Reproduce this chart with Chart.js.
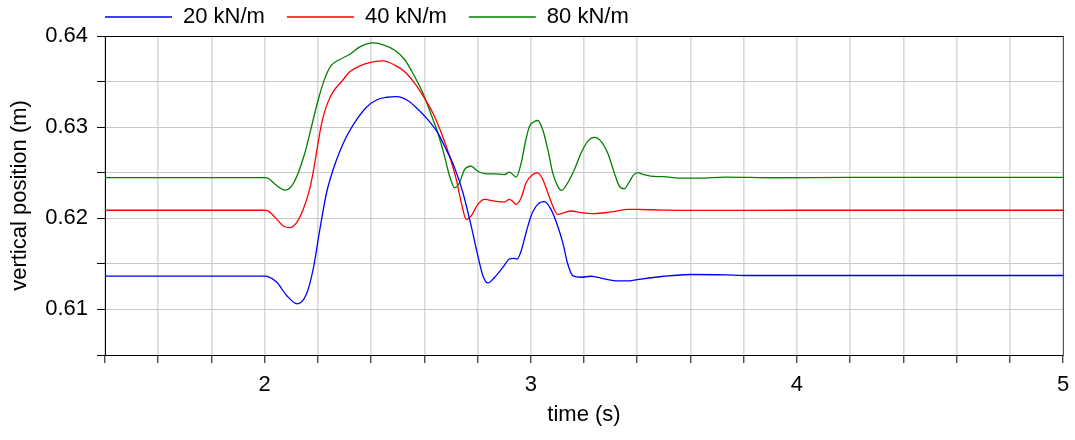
<!DOCTYPE html>
<html>
<head>
<meta charset="utf-8">
<script src="https://cdn.jsdelivr.net/npm/chart.js@4/dist/chart.umd.min.js"></script>
<style>
  body { margin: 0; background: #fff; }
  #wrap { width: 1075px; height: 440px; }
</style>
</head>
<body>
<div id="wrap"><canvas id="plot"></canvas></div>
<script>
// series labels
const seriesNames = ["20 kN/m", "40 kN/m", "80 kN/m"];
const seriesColors = ["#0000ff", "#ff0000", "#008000"];

// 20 kN/m
const blueTime = [1.4, 2.0, 2.01, 2.045, 2.0825, 2.1225, 2.1575, 2.1825, 2.2075, 2.2325, 2.2575, 2.2825, 2.3075, 2.345, 2.3825, 2.42, 2.46, 2.495, 2.539, 2.576, 2.614, 2.651, 2.6825, 2.714, 2.745, 2.776, 2.801, 2.82, 2.839, 2.864, 2.895, 2.92, 2.935, 2.949, 2.964, 2.9825, 3.001, 3.026, 3.051, 3.076, 3.101, 3.12, 3.139, 3.1575, 3.189, 3.226, 3.276, 3.326, 3.37, 3.4, 3.5, 3.6, 3.73, 3.8, 4.0, 5.0];
const blueVal = [0.61365, 0.61365, 0.61362, 0.6130, 0.61153, 0.61062, 0.61171, 0.61444, 0.6188, 0.6228, 0.62535, 0.62735, 0.62898, 0.6308, 0.63218, 0.63298, 0.63328, 0.63335, 0.6329, 0.63196, 0.6308, 0.62935, 0.62753, 0.62553, 0.6228, 0.61916, 0.6159, 0.6137, 0.61291, 0.61353, 0.61462, 0.61553, 0.6156, 0.61553, 0.61644, 0.61844, 0.62026, 0.62153, 0.62182, 0.62098, 0.61916, 0.61735, 0.61498, 0.61371, 0.61353, 0.61364, 0.61335, 0.61313, 0.61313, 0.61328, 0.61364, 0.61383, 0.6138, 0.61372, 0.61372, 0.61372];

// 40 kN/m
const redTime = [1.4, 2.0, 2.01, 2.04, 2.07, 2.095, 2.12, 2.145, 2.17, 2.185, 2.1975, 2.21125, 2.22375, 2.23875, 2.2575, 2.28875, 2.32, 2.3575, 2.4075, 2.445, 2.489, 2.526, 2.564, 2.601, 2.6325, 2.664, 2.695, 2.72, 2.739, 2.7575, 2.776, 2.801, 2.826, 2.864, 2.901, 2.92, 2.9325, 2.945, 2.964, 2.9825, 3.0075, 3.026, 3.045, 3.064, 3.0825, 3.101, 3.126, 3.151, 3.189, 3.239, 3.301, 3.37, 3.4, 3.5, 3.6, 4.0, 5.0];
const redVal = [0.62088, 0.62088, 0.62085, 0.62007, 0.61916, 0.61898, 0.61953, 0.62098, 0.6233, 0.6255, 0.62771, 0.63, 0.63153, 0.6328, 0.63389, 0.63498, 0.63607, 0.63673, 0.63716, 0.63726, 0.6368, 0.63607, 0.6348, 0.63316, 0.63153, 0.62935, 0.6268, 0.62426, 0.62171, 0.61989, 0.62026, 0.62153, 0.62207, 0.62189, 0.62178, 0.62207, 0.62185, 0.62153, 0.62226, 0.6239, 0.6248, 0.62498, 0.62426, 0.6228, 0.62135, 0.62044, 0.62062, 0.6208, 0.62062, 0.62051, 0.6207, 0.62098, 0.62097, 0.6209, 0.62086, 0.62088, 0.62088];

// 80 kN/m
const greenTime = [1.4, 2.0, 2.01, 2.04, 2.076, 2.101, 2.126, 2.151, 2.176, 2.201, 2.226, 2.251, 2.2825, 2.32, 2.3575, 2.4075, 2.451, 2.489, 2.526, 2.564, 2.595, 2.626, 2.651, 2.676, 2.695, 2.714, 2.732, 2.751, 2.776, 2.801, 2.826, 2.864, 2.901, 2.92, 2.9325, 2.945, 2.964, 2.979, 2.995, 3.014, 3.026, 3.045, 3.064, 3.0825, 3.101, 3.116, 3.139, 3.164, 3.189, 3.214, 3.239, 3.264, 3.289, 3.314, 3.3325, 3.351, 3.37, 3.385, 3.4025, 3.425, 3.45, 3.5, 3.563, 3.63, 3.73, 3.915, 4.2, 5.0];
const greenVal = [0.62447, 0.62447, 0.62444, 0.62371, 0.6231, 0.62353, 0.62498, 0.62716, 0.63007, 0.63298, 0.63535, 0.6368, 0.63742, 0.638, 0.6388, 0.63924, 0.63898, 0.63844, 0.63742, 0.63553, 0.63371, 0.63135, 0.62935, 0.6268, 0.62462, 0.62335, 0.6239, 0.62535, 0.62571, 0.62516, 0.62491, 0.62487, 0.6248, 0.62506, 0.6248, 0.62451, 0.62607, 0.62826, 0.63007, 0.63062, 0.63073, 0.62971, 0.62753, 0.62498, 0.62353, 0.62306, 0.6239, 0.62535, 0.62716, 0.62844, 0.62887, 0.62844, 0.62716, 0.62498, 0.62353, 0.62324, 0.62398, 0.62471, 0.625, 0.62478, 0.62463, 0.62456, 0.62441, 0.62441, 0.62452, 0.62445, 0.62449, 0.62449];

// axis ranges / ticks
const xMin = 1.4, xMax = 5, xStep = 0.2;
const yMin = 0.605, yMax = 0.64, yStep = 0.005;

function toPoints(ts, vs) {
    return ts.map((t, i) => ({ x: t, y: vs[i] }));
}

const allTimes = [blueTime, redTime, greenTime];
const allVals = [blueVal, redVal, greenVal];

Chart.defaults.font.family = "'Liberation Sans', Arial, sans-serif";
Chart.defaults.font.size = 22;
Chart.defaults.color = "#000";

// put the legend where the original has it
const legendShift = {
    id: "legendShift",
    afterLayout(chart) {
        const lg = chart.legend;
        const p = lg.options.labels.padding;
        lg.left = chart.chartArea.left - p;
        lg.top = 17 - p - 11;
    }
};

// black frame on top, grey on right
const frame = {
    id: "frame",
    afterDatasetsDraw(chart) {
        const { ctx, chartArea: a } = chart;
        ctx.save();
        ctx.lineWidth = 1;
        ctx.strokeStyle = "#000";
        ctx.beginPath();
        ctx.moveTo(a.left, Math.round(a.top) + 0.5);
        ctx.lineTo(a.right, Math.round(a.top) + 0.5);
        ctx.stroke();
        ctx.strokeStyle = "#555";
        ctx.beginPath();
        ctx.moveTo(Math.round(a.right) + 0.5, a.top);
        ctx.lineTo(Math.round(a.right) + 0.5, a.bottom);
        ctx.stroke();
        ctx.restore();
    }
};

new Chart(document.getElementById("plot"), {
    type: "line",
    data: {
        datasets: seriesNames.map((name, i) => ({
            label: name,
            data: toPoints(allTimes[i], allVals[i]),
            borderColor: seriesColors[i],
            backgroundColor: seriesColors[i],
            borderWidth: 1.3,
            pointRadius: 0,
            cubicInterpolationMode: "monotone",
            fill: false
        }))
    },
    options: {
        responsive: true,
        maintainAspectRatio: false,
        animation: false,
        layout: { padding: { left: 0, right: 12, top: 0, bottom: 0 } },
        plugins: {
            tooltip: { enabled: false },
            legend: {
                align: "start",
                maxHeight: 36,
                labels: {
                    boxWidth: 67,
                    boxHeight: 0,
                    padding: 22,
                    color: "#000"
                }
            }
        },
        scales: {
            x: {
                type: "linear",
                min: xMin,
                max: xMax,
                afterFit: s => { s.height = 85; s.paddingRight = 0; s.paddingLeft = 0; },
                ticks: {
                    stepSize: xStep,
                    autoSkip: false,
                    maxRotation: 0,
                    padding: 9,
                    callback: v => Math.abs(v - Math.round(v)) < 1e-6 ? String(Math.round(v)) : ""
                },
                grid: { color: "#d9d9d9", lineWidth: 1.6, tickColor: "#000", tickWidth: 1, tickLength: 8 },
                border: { color: "#000", width: 1 },
                title: { display: true, text: "time (s)", padding: { top: 0, bottom: 12 } }
            },
            y: {
                min: yMin,
                max: yMax,
                afterFit: s => { s.width = 105; },
                ticks: {
                    stepSize: yStep,
                    autoSkip: false,
                    padding: 9,
                    callback: v => Math.abs(v * 100 - Math.round(v * 100)) < 1e-6 ? v.toFixed(2) : ""
                },
                grid: { color: "#c8c8c8", lineWidth: 1, tickColor: "#000", tickLength: 8 },
                border: { color: "#000", width: 1 },
                title: { display: true, text: "vertical position (m)", padding: { top: 7, bottom: 0 } }
            }
        }
    },
    plugins: [legendShift, frame]
});
</script>
</body>
</html>
